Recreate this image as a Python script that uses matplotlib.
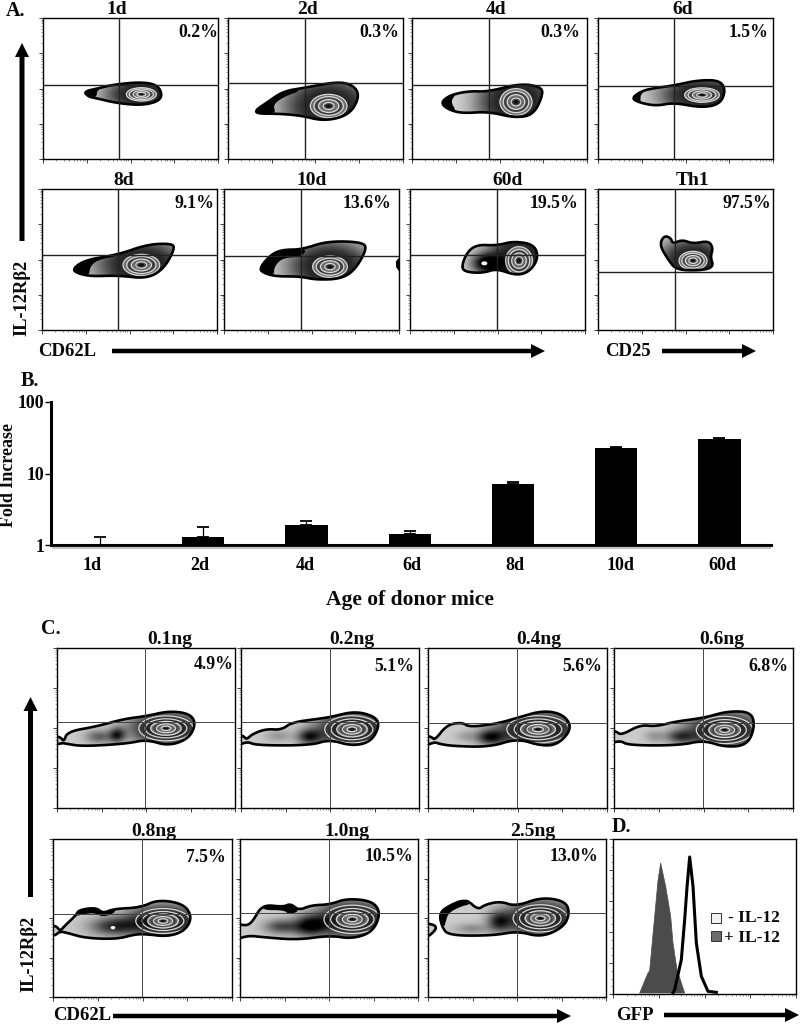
import numpy as np
import matplotlib
matplotlib.use("Agg")
import matplotlib.pyplot as plt
from matplotlib.patches import Polygon, Ellipse, Rectangle, FancyArrow

plt.rcParams['font.family'] = ['Liberation Serif', 'DejaVu Serif']
plt.rcParams['font.weight'] = 'bold'

# ---- Panel B data ----
ages = ['1d', '2d', '4d', '6d', '8d', '10d', '60d']
fold = [1.0, 1.29, 1.9, 1.41, 7.06, 22.5, 30.0]
fold_top = [1.28, 1.8, 2.2, 1.58, 7.5, 23.3, 31.7]

# ---- Panel D data (channel, count) ----
filled_x = [80, 105, 110, 125, 135, 143, 158, 173, 180, 192, 215]
filled_y = [3, 63, 70, 233, 340, 393, 323, 233, 153, 73, 3]
line_x = [180, 185, 205, 215, 222, 230, 240, 250, 265, 285, 310]
line_y = [3, 13, 103, 223, 320, 411, 323, 153, 53, 8, 5]

# ---- Flow panels: outlines in channels, (x, y) ----
out_1d = [(125,202),(170,212),(210,222),(290,230),(340,222),(355,192),(340,172),(290,162),(220,169),(165,182),(140,187)]
out_2d = [(87,147),(117,167),(167,202),(227,212),(337,232),(382,212),(387,177),(357,132),(287,115),(217,132),(147,137),(92,137)]
out_4d = [(90,168),(115,190),(170,203),(230,201),(320,225),(385,215),(387,188),(360,133),(305,125),(230,143),(155,138),(115,148)]
out_6d = [(104,183),(137,205),(172,212),(229,220),(297,235),(362,235),(379,205),(362,165),(307,155),(227,170),(177,160),(127,170)]
out_8d = [(95,183),(133,210),(228,225),(313,255),(383,258),(395,245),(363,185),(313,155),(228,165),(153,162),(113,170)]
out_10d = [(110,185),(143,225),(178,240),(233,240),(308,265),(413,262),(423,240),(388,180),(348,155),(278,152),(228,162),(158,162),(123,172)]
out_60d = [(157,190),(175,235),(205,255),(260,252),(310,265),(370,255),(382,215),(355,175),(315,165),(260,185),(220,172),(170,175)]
out_th1 = [(187,255),(200,282),(220,275),(225,258),(253,270),(285,258),(330,267),(343,245),(335,220),(345,190),(305,180),(235,182),(210,215)]
out_01 = [(0,216),(15,214),(25,199),(35,229),(120,244),(200,266),(265,274),(330,289),(390,282),(410,254),(390,209),(330,187),(265,206),(210,194),(80,186),(30,194),(20,196),(0,186)]
out_02 = [(0,226),(13,216),(21,206),(38,222),(78,237),(123,234),(153,256),(228,266),(268,272),(338,289),(398,272),(408,244),(383,199),(328,187),(263,206),(208,189),(48,189),(23,201),(0,182)]
out_04 = [(0,222),(15,214),(25,204),(60,249),(105,256),(125,242),(205,252),(265,269),(340,291),(400,279),(425,239),(385,192),(335,187),(265,209),(185,184),(75,187),(35,194),(25,199),(0,182)]
out_06 = [(0,239),(12,229),(27,219),(82,249),(127,244),(187,259),(267,269),(337,289),(407,286),(415,239),(392,189),(327,184),(267,204),(197,189),(47,189),(22,204),(0,189)]
out_08 = [(0,218),(15,213),(25,198),(40,215),(72,245),(80,260),(130,267),(150,250),(180,263),(260,267),(310,290),(385,278),(410,240),(390,200),(340,182),(270,190),(240,188),(190,175),(100,178),(50,192),(25,198),(10,185),(0,182)]
out_10 = [(0,226),(22,213),(42,226),(70,276),(132,269),(152,279),(177,259),(212,274),(267,276),(317,294),(392,286),(415,251),(392,196),(332,176),(267,186),(172,173),(72,181),(27,186),(0,169)]
out_25 = [(39,251),(67,273),(117,293),(152,261),(172,276),(217,286),(262,271),(337,298),(407,286),(419,251),(402,211),(337,181),(267,199),(197,186),(67,186),(47,211)]
out_25_left = [(0,223),(32,213),(2,181),(0,181)]
out_10d_edge = [(526,215),(518,205),(518,190),(526,178)]

# black, piled-up regions along the outlines
tail_1d = [(125,202),(170,212),(160,205),(158,187),(140,187)]
tail_2d = [(87,147),(117,167),(167,202),(222,209),(162,187),(132,162),(142,137),(92,137)]
tail_4d = [(90,168),(115,190),(130,196),(113,173),(130,143),(115,148)]
tail_6d = [(104,183),(137,205),(125,192),(125,172),(127,170)]
tail_8d = [(95,183),(133,210),(228,225),(173,215),(143,195),(138,162),(113,170)]
tail_10d = [(110,185),(143,225),(178,240),(248,242),(228,222),(173,218),(148,190),(148,165),(123,172)]
tail_08 = [(72,245),(80,260),(130,267),(150,250),(180,263),(185,255),(150,242),(125,255),(85,250)]
tail_10 = [(70,276),(132,269),(152,279),(177,259),(147,251),(132,263),(72,263)]
tail_25 = [(39,251),(67,273),(117,293),(125,280),(100,275),(60,255),(50,225),(47,211)]

# names, percents, quadrant gate (x, y), main population (x, y, rx, ry)
names_a = ['1d', '2d', '4d', '6d', '8d', '10d', '60d', 'Th1']
pct_a = ['0.2%', '0.3%', '0.3%', '1.5%', '9.1%', '13.6%', '19.5%', '97.5%']
gate_a = [(227,223),(230,227),(230,221),(229,220),(228,225),(230,222),(262,225),(230,174)]
core_a = [(295,194,45,20),(302,159,55,35),(312,171,48,40),(312,192,52,22),(298,195,55,32),(318,190,52,32),(327,208,40,42),(285,208,42,28)]
names_c = ['0.1ng', '0.2ng', '0.4ng', '0.6ng', '0.8ng', '1.0ng', '2.5ng']
pct_c = ['4.9%', '5.1%', '5.6%', '6.8%', '7.5%', '10.5%', '13.0%']
gate_c = [(265,258),(266,257),(267,255),(267,254),(268,249),(267,251),(267,252)]
core_c = [(327,239,48,22),(333,236,48,24),(330,236,55,24),(332,234,50,24),(330,228,48,22),(337,233,50,25),(337,236,48,24)]
# secondary dense spots (x, y, rx, ry, strength)
spots_a = [[], [], [], [], [], [], [(223,200,45,30,0.7)], []]
spots_c = [[(180,219,24,22,.62),(125,214,40,20,.42)],
           [(203,214,36,22,.62),(110,216,40,18,.2)],
           [(185,212,42,22,.65),(110,215,30,16,.15)],
           [(197,214,42,20,.5),(120,215,30,18,.2)],
           [(180,212,70,28,.6)],
           [(207,213,48,30,.7),(122,211,50,22,.5)],
           [(212,226,34,30,.55),(130,205,50,16,.25)]]
white_a = [None]*6 + [(223,200,9,6)] + [None]
white_c = [None]*4 + [(180,208,7,5)] + [None]*2

W, H = 800, 1024
fig = plt.figure(figsize=(W/100, H/100), dpi=100, facecolor='white')
SERIF = ['Liberation Serif', 'DejaVu Serif']

def px_axes(l, t, r, b, **kw):
    return fig.add_axes([l/W, 1-b/H, (r-l)/W, (b-t)/H], **kw)

def smooth(points, n=3, grow=1.03):
    """Round a closed hand-read outline (corner cutting); edge points run past the frame."""
    p = np.array([(x if x > 0 else -18, y) for x, y in points], float)
    mid = p.mean(axis=0)
    p = mid + (p - mid)*grow
    for _ in range(n):
        q = np.roll(p, -1, axis=0)
        p = np.column_stack([0.75*p + 0.25*q, 0.25*p + 0.75*q]).reshape(-1, 2)
    return p

def flow_ticks(ax, w, h, yhist=False):
    dec = np.log10(np.arange(2, 10))
    maj = np.arange(5)
    mnr = np.concatenate([d + dec for d in range(4)])
    ax.set_xticks(maj*w/4); ax.set_xticks(mnr*w/4, minor=True)
    if yhist:
        ax.set_yticks(np.arange(6)*h/5)
        ax.set_yticks(np.arange(0.25, 5, 0.25)*h/5, minor=True)
    else:
        ax.set_yticks(maj*h/4); ax.set_yticks(mnr*h/4, minor=True)
    ax.tick_params(which='major', length=3.2, width=.6, color='#222', labelleft=False, labelbottom=False)
    ax.tick_params(which='minor', length=1.6, width=.4, color='#444')
    for s in ax.spines.values():
        s.set_linewidth(1.0)

def flow_panel(box, outline, gate, core, spots, white, tail=None, extra=(), gate_lw=1.0, gate_c='#222',
               scales=(0.3, 0.55, 0.8, 1.0), far=0.86, reach=1.7):
    l, t, r, b = box
    w, h = (r-l)*3, (b-t)*3
    ax = px_axes(l, t, r, b)
    xs = np.linspace(0, w, 263); ys = np.linspace(0, h, 212)
    X, Y = np.meshgrid(xs, ys)
    cx, cy, rx, ry = core
    R = np.hypot((X-cx)/rx, (Y-cy)/ry)
    Z = far - (far-0.15)*np.exp(-((R-1).clip(0)/reach)**2)
    Z = np.where(R < 1, 0.34 + 0.10*np.cos(R*14), Z)
    for sx, sy, srx, sry, st in spots:
        Z = Z - st*np.exp(-(((X-sx)/srx)**2 + ((Y-sy)/sry)**2))
    Z = Z.clip(0, 1)
    main = smooth(outline)
    shapes = [main] + [smooth(e) for e in extra]
    for shp in shapes:
        im = ax.imshow(Z, origin='lower', extent=(0, w, 0, h), cmap='gray', vmin=0, vmax=1,
                       aspect='auto', zorder=1, interpolation='bilinear')
        pg = Polygon(shp, closed=True, fc='none', ec='black', lw=1.9, zorder=4, joinstyle='round')
        ax.add_patch(pg)
        im.set_clip_path(pg)
    main_clip = Polygon(main, closed=True, transform=ax.transData)
    for scale in scales:
        e = Ellipse((cx, cy), 2*rx*scale, 2*ry*scale, fc='none', ec='#d8d8d8', lw=.9, zorder=3)
        ax.add_patch(e)
        e.set_clip_path(main_clip)
    ax.add_patch(Ellipse((cx, cy), rx*.3, ry*.3, fc='#111', ec='none', zorder=3))
    if white is not None:
        wx, wy, wrx, wry = white
        ax.add_patch(Ellipse((wx, wy), 2*wrx, 2*wry, fc='white', ec='none', zorder=3))
    if tail is not None:
        ax.add_patch(Polygon(smooth(tail, 2, grow=1.0), closed=True, fc='black', ec='black', lw=1.2, zorder=4))
    ax.axvline(gate[0], color=gate_c, lw=gate_lw, zorder=5)
    ax.axhline(gate[1], color=gate_c, lw=gate_lw, zorder=5)
    ax.set_xlim(0, w); ax.set_ylim(0, h)
    flow_ticks(ax, w, h)
    return ax

# ---- Panel A ----
boxes_a = [(43,18,218,159),(228,18,403,159),(412,18,587,159),(598,18,773,159),
           (42,189,217,330),(224,189,399,330),(410,189,585,330),(598,189,773,330)]
outs_a = [out_1d, out_2d, out_4d, out_6d, out_8d, out_10d, out_60d, out_th1]
tails_a = [tail_1d, tail_2d, tail_4d, tail_6d, tail_8d, tail_10d, None, None]
for i in range(8):
    ax = flow_panel(boxes_a[i], outs_a[i], gate_a[i], core_a[i], spots_a[i], white_a[i], tails_a[i])
    if i == 5:
        ax.add_patch(Polygon(out_10d_edge, closed=True, fc='black', ec='black', zorder=4))

# ---- Panel C ----
boxes_c = [(57,648,235,808),(241,648,419,808),(428,648,607,808),(614,648,793,808),
           (53,839,232,997),(240,839,418,997),(428,839,606,997)]
outs_c = [out_01, out_02, out_04, out_06, out_08, out_10, out_25]
tails_c = [None, None, None, None, tail_08, tail_10, tail_25]
extras_c = [(), (), (), (), (), (), (out_25_left,)]
for i in range(7):
    flow_panel(boxes_c[i], outs_c[i], gate_c[i], core_c[i], spots_c[i], white_c[i], tails_c[i],
               extra=extras_c[i], gate_lw=.7, gate_c='#444',
               scales=(0.3, 0.6, 0.95, 1.3, 1.7), far=0.80, reach=1.5)

# ---- Panel B ----
axb = px_axes(51, 402, 771, 545)
pos = np.arange(7)
axb.set_yscale('log')
axb.bar(pos, fold, width=0.41, color='black', zorder=3)
axb.errorbar(pos, fold, yerr=[np.zeros(7), np.array(fold_top)-np.array(fold)], fmt='none',
             ecolor='black', elinewidth=.9, capsize=4.5, capthick=1.3, zorder=2)
axb.set_xlim(-0.475, 6.5); axb.set_ylim(1, 100)
for s in ('top', 'right'):
    axb.spines[s].set_visible(False)
axb.spines['left'].set_linewidth(2.2); axb.spines['bottom'].set_linewidth(2.2)
axb.set_yticks([1, 10, 100]); axb.set_yticklabels(['1', '10', '100'], fontsize=12.8, family=SERIF, weight='bold')
axb.minorticks_off()
axb.tick_params(axis='y', length=4, width=1, pad=1)
axb.set_xticks(pos[:-1]+0.5); axb.set_xticklabels([])
axb.tick_params(axis='x', length=2.5, width=.6, color='#555')
axb.set_xticks([-0.08, 0.97, 1.99, 3.02, 4.02, 5.04, 6.03], minor=True)
axb.set_xticklabels(ages, minor=True, fontsize=13, family=SERIF, weight='bold')
axb.tick_params(axis='x', which='minor', length=0, pad=9)

# ---- Panel D ----
dl, dt, dr, db = 613, 839, 796, 994
axd = px_axes(dl, dt, dr, db)
axd.add_patch(Polygon(list(zip(filled_x, filled_y)), closed=True, fc='#4b4b4b', ec='#4b4b4b', lw=.5, zorder=2))
axd.plot(line_x, line_y, color='black', lw=2.2, zorder=3, solid_joinstyle='round')
dw, dh = (dr-dl)*3, (db-dt)*3
axd.set_xlim(0, dw); axd.set_ylim(0, dh)
flow_ticks(axd, dw, dh, yhist=True)

# ---- Overlay: labels, arrows ----
ov = fig.add_axes([0, 0, 1, 1], zorder=20, facecolor='none')
ov.set_xlim(0, W); ov.set_ylim(H, 0); ov.axis('off')

def label(x, y, s, size, ha='center', rot=0):
    ov.text(x, y + (0 if rot else 1.5), s, fontsize=size, ha=ha, va='center', rotation=rot,
            family=SERIF, weight='bold', color='#0a0a0a')

title_xy = [(117,8),(308,8),(496,8),(683,8),(124,179),(312,179),(508,179),(692,179)]
pct_xy = [(218,31),(399,31),(580,31),(768,31),(214,202),(391,202),(578,202),(771,202)]
for i in range(8):
    label(*title_xy[i], names_a[i], 14)
    label(*pct_xy[i], pct_a[i], 12.8, ha='right')
title_c = [(170,638),(352,638),(539,638),(722,638),(154,830),(347,830),(533,830)]
pct_xyc = [(234,663),(414,665),(602,665),(788,665),(226,856),(413,855),(598,855)]
for i in range(7):
    label(*title_c[i], names_c[i], 14)
    label(*pct_xyc[i], pct_c[i], 12.8, ha='right')

label(6, 9, 'A.', 14.5, ha='left')
label(21, 380, 'B.', 14.5, ha='left')
label(41, 627, 'C.', 14.5, ha='left')
label(612, 826, 'D.', 14.5, ha='left')
label(38, 350, 'CD62L', 13.5, ha='left')
label(605, 350, 'CD25', 13.5, ha='left')
label(22, 298, 'IL-12Rβ2', 13.3, rot=90)
label(29, 954, 'IL-12Rβ2', 13.3, rot=90)
label(53, 1014, 'CD62L', 13.5, ha='left')
label(616, 1014, 'GFP', 13.5, ha='left')
label(9, 475, 'Fold Increase', 13, rot=90)
label(410, 598, 'Age of donor mice', 15.5)
label(780, 917, '- IL-12', 12.6, ha='right')
label(780, 936, '+ IL-12', 12.6, ha='right')

def arrow(x0, y0, x1, y1, w=5, hw=14, hl=14):
    ov.add_patch(FancyArrow(x0, y0, x1-x0, y1-y0, width=w, head_width=hw, head_length=hl,
                            length_includes_head=True, fc='black', ec='black', lw=0))

arrow(22, 241, 22, 43)
arrow(112, 351, 545, 351, w=4.5)
arrow(662, 351, 756, 351, w=4.5)
arrow(30.5, 897, 30.5, 697)
arrow(113, 1016, 571, 1016, w=4.5)
arrow(664, 1015, 799, 1015, w=4.5)

# legend swatches and shadow below the bar-chart baseline
for yy, col in [(913, '#f2f2f2'), (931, '#6a6a6a')]:
    ov.add_patch(Rectangle((712, yy+1), 10, 10, fc='#bbbbbb', ec='none'))
    ov.add_patch(Rectangle((711, yy), 10, 10, fc=col, ec='#333', lw=.7))
ov.plot([52, 771], [548, 548], color='#c4c4c4', lw=1.6, solid_capstyle='butt')

fig.savefig('out.png', dpi=100, facecolor='white')
